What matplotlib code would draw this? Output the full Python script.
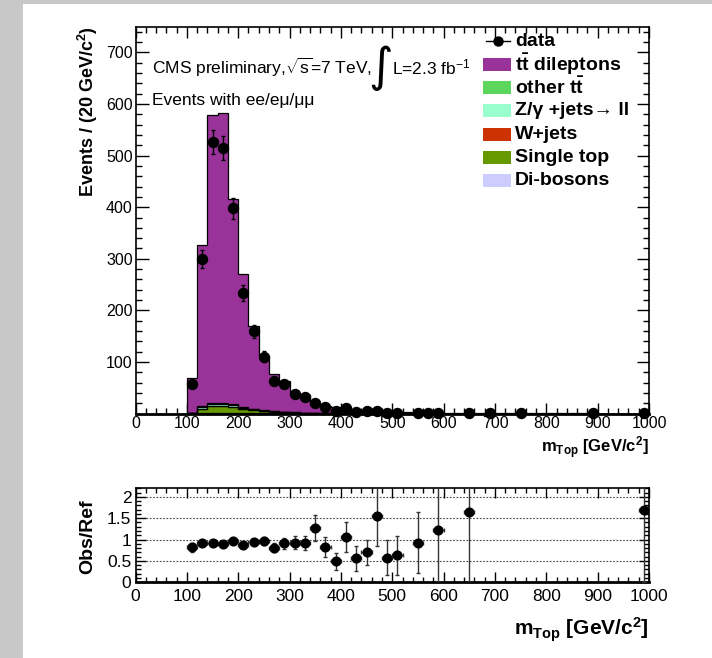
import numpy as np
import matplotlib
matplotlib.use("Agg")
import matplotlib.pyplot as plt
from matplotlib.patches import Rectangle
from matplotlib.lines import Line2D
from matplotlib.ticker import MultipleLocator, FixedLocator

plt.rcParams['font.family'] = ['Liberation Sans', 'DejaVu Sans']
plt.rcParams['mathtext.fontset'] = 'custom'
plt.rcParams['mathtext.rm'] = 'Liberation Sans'
plt.rcParams['mathtext.bf'] = 'Liberation Sans:bold'
plt.rcParams['mathtext.it'] = 'Liberation Sans:italic'
plt.rcParams['mathtext.sf'] = 'Liberation Sans'

# ---------------- data ----------------
bin_edges = list(range(100, 1001, 20))  # 45 bins of 20 GeV

tt_dileptons = [68, 311, 558, 563, 398, 257, 160, 105, 72, 59, 38, 33, 15, 13.5, 11.3,
                8.8, 6.7, 6.8, 3.3, 3.3, 3.1, 2.6, 2.1, 1.5, 0.8, 0.8, 0.7, 0.6, 0.5, 0.5,
                0.4, 0.4, 0.35, 0.3, 0.3, 0.25, 0.25, 0.2, 0.2, 0.2, 0.15, 0.15, 0.1, 0.1, 0.6]
other_tt = [0.2, 2.0, 2.5, 2.5, 2.0, 1.5, 1.0, 0.8, 0.6, 0.4, 0.3, 0.2, 0.1, 0.1, 0.1,
            0, 0, 0, 0, 0, 0, 0, 0, 0, 0, 0, 0, 0, 0, 0,
            0, 0, 0, 0, 0, 0, 0, 0, 0, 0, 0, 0, 0, 0, 0]
z_jets = [0.2, 3.0, 3.5, 3.5, 3.0, 2.0, 1.5, 1.0, 0.8, 0.5, 0.4, 0.3, 0.2, 0.1, 0.1,
          0, 0, 0, 0, 0, 0, 0, 0, 0, 0, 0, 0, 0, 0, 0,
          0, 0, 0, 0, 0, 0, 0, 0, 0, 0, 0, 0, 0, 0, 0]
w_jets = [0, 0.3, 0.3, 0.3, 0.3, 0.2, 0.2, 0.1, 0.1, 0.1, 0, 0, 0, 0, 0,
          0, 0, 0, 0, 0, 0, 0, 0, 0, 0, 0, 0, 0, 0, 0,
          0, 0, 0, 0, 0, 0, 0, 0, 0, 0, 0, 0, 0, 0, 0]
single_top = [0.5, 9.0, 13.5, 13.5, 12.0, 8.5, 6.5, 4.5, 3.5, 2.5, 2.0, 1.5, 1.0, 0.8, 0.5,
              0.4, 0.3, 0.2, 0.2, 0.1, 0.1, 0, 0, 0, 0, 0, 0, 0, 0, 0,
              0, 0, 0, 0, 0, 0, 0, 0, 0, 0, 0, 0, 0, 0, 0]
dibosons = [0.2, 0.5, 0.6, 0.6, 0.5, 0.4, 0.3, 0.2, 0.2, 0.1, 0.1, 0.1, 0, 0, 0,
            0, 0, 0, 0, 0, 0, 0, 0, 0, 0, 0, 0, 0, 0, 0,
            0, 0, 0, 0, 0, 0, 0, 0, 0, 0, 0, 0, 0, 0, 0]

data_x = [110, 130, 150, 170, 190, 210, 230, 250, 270, 290, 310, 330, 350, 370, 390,
          410, 430, 450, 470, 490, 510, 550, 570, 590, 650, 690, 750, 890, 990]
data_y = [57, 300, 527, 515, 398, 234, 160, 110, 63, 57, 38, 32, 20, 12, 6,
          10, 4, 5, 5, 2, 2, 2, 1, 1, 1, 1, 1, 1, 1]

ratio_x = [110, 130, 150, 170, 190, 210, 230, 250, 270, 290, 310, 330, 350, 370, 390,
           410, 430, 450, 470, 490, 510, 550, 590, 650, 990]
ratio_y = [0.82, 0.93, 0.92, 0.89, 0.96, 0.87, 0.94, 0.96, 0.81, 0.91, 0.93, 0.92, 1.27, 0.82, 0.49,
           1.07, 0.56, 0.70, 1.56, 0.58, 0.63, 0.93, 1.23, 1.64, 1.70]
ratio_err = [0.10, 0.06, 0.05, 0.05, 0.05, 0.06, 0.07, 0.09, 0.10, 0.12, 0.15, 0.17, 0.30, 0.23, 0.20,
             0.35, 0.29, 0.30, 0.72, 0.42, 0.46, 0.71, 1.25, 1.65, 1.70]

# stack order bottom -> top
components = [
    (dibosons, '#ccccff', 'Di-bosons'),
    (single_top, '#669900', 'Single top'),
    (w_jets, '#cc3300', 'W+jets'),
    (z_jets, '#99ffcc', 'Z/\u03b3 +jets\u2192 ll'),
    (other_tt, '#5cd65c', r'other $\mathbf{t\bar{t}}$'),
    (tt_dileptons, '#993399', r'$\mathbf{t\bar{t}}$ dileptons'),
]

W, H = 712, 658
fig = plt.figure(figsize=(W / 100, H / 100), dpi=100)


def fx(px):
    return px / W


def fy(py):
    return 1 - py / H


grey = '#c8c8c8'
fig.patches.append(Rectangle((0, 0), fx(23), 1, transform=fig.transFigure,
                             facecolor=grey, edgecolor='none', zorder=-10))
fig.patches.append(Rectangle((0, fy(4)), 1, 1 - fy(4), transform=fig.transFigure,
                             facecolor=grey, edgecolor='none', zorder=-10))

# ---------------- main panel ----------------
L, R = 135.5, 649
ax = fig.add_axes([fx(L), fy(413.6), fx(R) - fx(L), fy(26.6) - fy(413.6)])
edges = np.array(bin_edges, dtype=float)
prev = np.zeros(len(edges) - 1)
for vals, col, lab in components:
    cur = prev + np.array(vals, dtype=float)
    ax.stairs(cur, edges, baseline=prev, fill=True, color=col, lw=0, zorder=2)
    ax.stairs(cur, edges, baseline=0, fill=False, color='black', lw=0.9, zorder=3)
    prev = cur

dy = np.sqrt(np.array(data_y, dtype=float))
ax.errorbar(data_x, data_y, yerr=dy, fmt='o', color='black', ms=7.2,
            elinewidth=1.0, capsize=1.6, capthick=1.0, zorder=5, clip_on=False)

ax.set_xlim(0, 1000)
ax.set_ylim(0, 750)
ax.xaxis.set_major_locator(MultipleLocator(100))
ax.xaxis.set_minor_locator(MultipleLocator(20))
ax.yaxis.set_major_locator(FixedLocator([100, 200, 300, 400, 500, 600, 700]))
ax.yaxis.set_minor_locator(MultipleLocator(20))
ax.tick_params(which='both', direction='in', top=True, right=True, width=1.0)
ax.tick_params(which='major', length=8, labelsize=11.5, pad=2)
ax.tick_params(which='minor', length=4)
ax.tick_params(axis='y', which='major', length=9)
for s in ax.spines.values():
    s.set_linewidth(1.2)
ax.spines['bottom'].set_linewidth(2.0)

fig.text(fx(88), fy(112), r'Events / (20 GeV/c$^{\mathbf{2}}$)', rotation=90,
         ha='center', va='center', fontsize=13, fontweight='bold')
fig.text(fx(649), fy(448), r'$\mathbf{m}_{\mathbf{Top}}$ [GeV/c$^{\mathbf{2}}$]',
         ha='right', va='center', fontsize=12, fontweight='bold')

# annotations
fig.text(fx(152), fy(67), r'CMS preliminary,$\sqrt{\mathrm{s}}$=7 TeV,', ha='left', va='center', fontsize=12.5)
fig.text(fx(381), fy(68), '\u222b', ha='center', va='center', fontsize=34, family='DejaVu Sans')
fig.text(fx(392), fy(67), r'L=2.3 fb$^{-1}$', ha='left', va='center', fontsize=12.5)
fig.text(fx(152), fy(101), 'Events with ee/e\u03bc/\u03bc\u03bc', ha='left', va='center', fontsize=12.5)

# legend
leg_y0, leg_dy = 41, 23.3
box_x0, box_x1 = 483, 511
text_x = 515
ly = leg_y0
fig.lines.append(Line2D([fx(486), fx(510)], [fy(ly), fy(ly)], transform=fig.transFigure,
                        color='black', lw=1.0))
fig.lines.append(Line2D([fx(498)], [fy(ly)], transform=fig.transFigure, marker='o',
                        color='black', ms=6.5))
fig.text(fx(text_x), fy(ly), 'data', ha='left', va='center', fontsize=14, fontweight='bold')
for i, (vals, col, lab) in enumerate(components[::-1]):
    ly = leg_y0 + (i + 1) * leg_dy
    fig.patches.append(Rectangle((fx(box_x0), fy(ly + 6.5)), fx(box_x1) - fx(box_x0), 13 / H,
                                 transform=fig.transFigure, facecolor=col, edgecolor='none'))
    fig.text(fx(text_x), fy(ly), lab, ha='left', va='center', fontsize=14, fontweight='bold')

# ---------------- ratio panel ----------------
ax2 = fig.add_axes([fx(L), fy(582.3), fx(R) - fx(L), fy(488.3) - fy(582.3)])
for g in [0.5, 1.0, 1.5, 2.0]:
    ax2.axhline(g, color='#444444', lw=0.8, ls=(0, (1.5, 1.5)), zorder=1)
ax2.errorbar(ratio_x, ratio_y, yerr=ratio_err, xerr=10, fmt='o', color='black', ms=6.3,
             ecolor='#333333', elinewidth=1.0, capsize=1.5, capthick=1.0, zorder=3)
ax2.set_xlim(0, 1000)
ax2.set_ylim(0, 2.2)
ax2.xaxis.set_major_locator(MultipleLocator(100))
ax2.xaxis.set_minor_locator(MultipleLocator(20))
ax2.yaxis.set_major_locator(FixedLocator([0, 0.5, 1, 1.5, 2]))
ax2.yaxis.set_minor_locator(MultipleLocator(0.1))
ax2.set_yticklabels(['0', '0.5', '1', '1.5', '2'])
ax2.tick_params(which='both', direction='in', top=True, right=True, width=1.0)
ax2.tick_params(which='major', length=7, labelsize=12.5, pad=3)
ax2.tick_params(axis='x', which='major', pad=5)
ax2.tick_params(which='minor', length=3.5)
for s in ax2.spines.values():
    s.set_linewidth(1.2)
ax2.spines['bottom'].set_linewidth(2.0)

fig.text(fx(88), fy(537), 'Obs/Ref', rotation=90, ha='center', va='center',
         fontsize=14, fontweight='bold')
fig.text(fx(649), fy(630), r'$\mathbf{m}_{\mathbf{Top}}$ [GeV/c$^{\mathbf{2}}$]',
         ha='right', va='center', fontsize=15, fontweight='bold')

fig.savefig('out.png', dpi=100)
